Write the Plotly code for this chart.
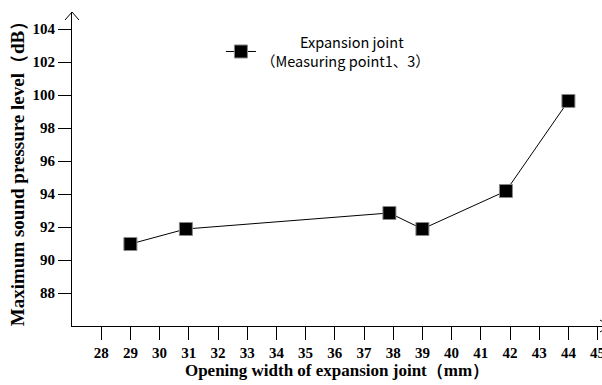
import plotly.graph_objects as go

opening_width = [29.0, 30.9, 37.87, 39.0, 41.86, 44.0]
max_spl = [90.97, 91.88, 92.85, 91.88, 94.18, 99.64]
x_ticks = list(range(28, 46))
y_ticks = list(range(88, 105, 2))

serif = "Liberation Serif"
sans = "Noto Sans CJK SC"

fig = go.Figure()
fig.add_trace(go.Scatter(
    x=opening_width, y=max_spl, mode="lines+markers",
    name="&nbsp;" * 12 + "Expansion joint<br>（Measuring point1、3）",
    line=dict(color="black", width=1),
    marker=dict(symbol="square", size=13, color="black", line=dict(color="#888", width=1)),
))

fig.update_layout(
    width=602, height=385,
    margin=dict(l=72, r=0, t=12, b=59, autoexpand=False),
    paper_bgcolor="white", plot_bgcolor="white",
    showlegend=True,
    legend=dict(x=0.281, y=0.955, xanchor="left", yanchor="top", valign="middle",
                font=dict(family=sans, size=14.5, color="black"), bgcolor="rgba(0,0,0,0)"),
    xaxis=dict(range=[27.0, 45.15], tickvals=x_ticks, ticktext=[f"<b>{v}</b>" for v in x_ticks],
               automargin=False, ticklabeloverflow="allow",
               showgrid=False, zeroline=False, showline=True, linecolor="black", linewidth=1,
               ticks="outside", ticklen=13, tickcolor="black", tickwidth=1,
               tickfont=dict(family=serif, size=15, color="black"),
               title=dict(text="<b>Opening width of expansion joint（mm）</b>",
                          font=dict(family=serif, size=17, color="black"), standoff=2)),
    yaxis=dict(range=[86, 105.03], tickvals=y_ticks, ticktext=[f"<b>{v}</b>" for v in y_ticks],
               automargin=False,
               showgrid=False, zeroline=False, showline=True, linecolor="black", linewidth=1,
               ticks="outside", ticklen=13, tickcolor="black", tickwidth=1,
               tickfont=dict(family=serif, size=15, color="black"),
               title=dict(text="<b>Maximum sound pressure level（dB）</b>",
                          font=dict(family=serif, size=19, color="black"), standoff=2)),
)

# y-axis arrowhead (top) and x-axis arrowhead (cut off at right edge)
fig.add_shape(type="path", xref="paper", yref="paper", xsizemode="pixel", ysizemode="pixel",
              xanchor=0, yanchor=1, path="M -7,-8 L 0,0 L 7,-8",
              line=dict(color="black", width=1))
fig.add_shape(type="path", xref="paper", yref="paper", xsizemode="pixel", ysizemode="pixel",
              xanchor=1, yanchor=0, path="M -2,6 L 7,0 L -2,-6",
              line=dict(color="black", width=1))

fig.write_html("out.html", config={"displayModeBar": False},
               post_script="document.body.style.margin='0';document.body.style.overflow='hidden';")
